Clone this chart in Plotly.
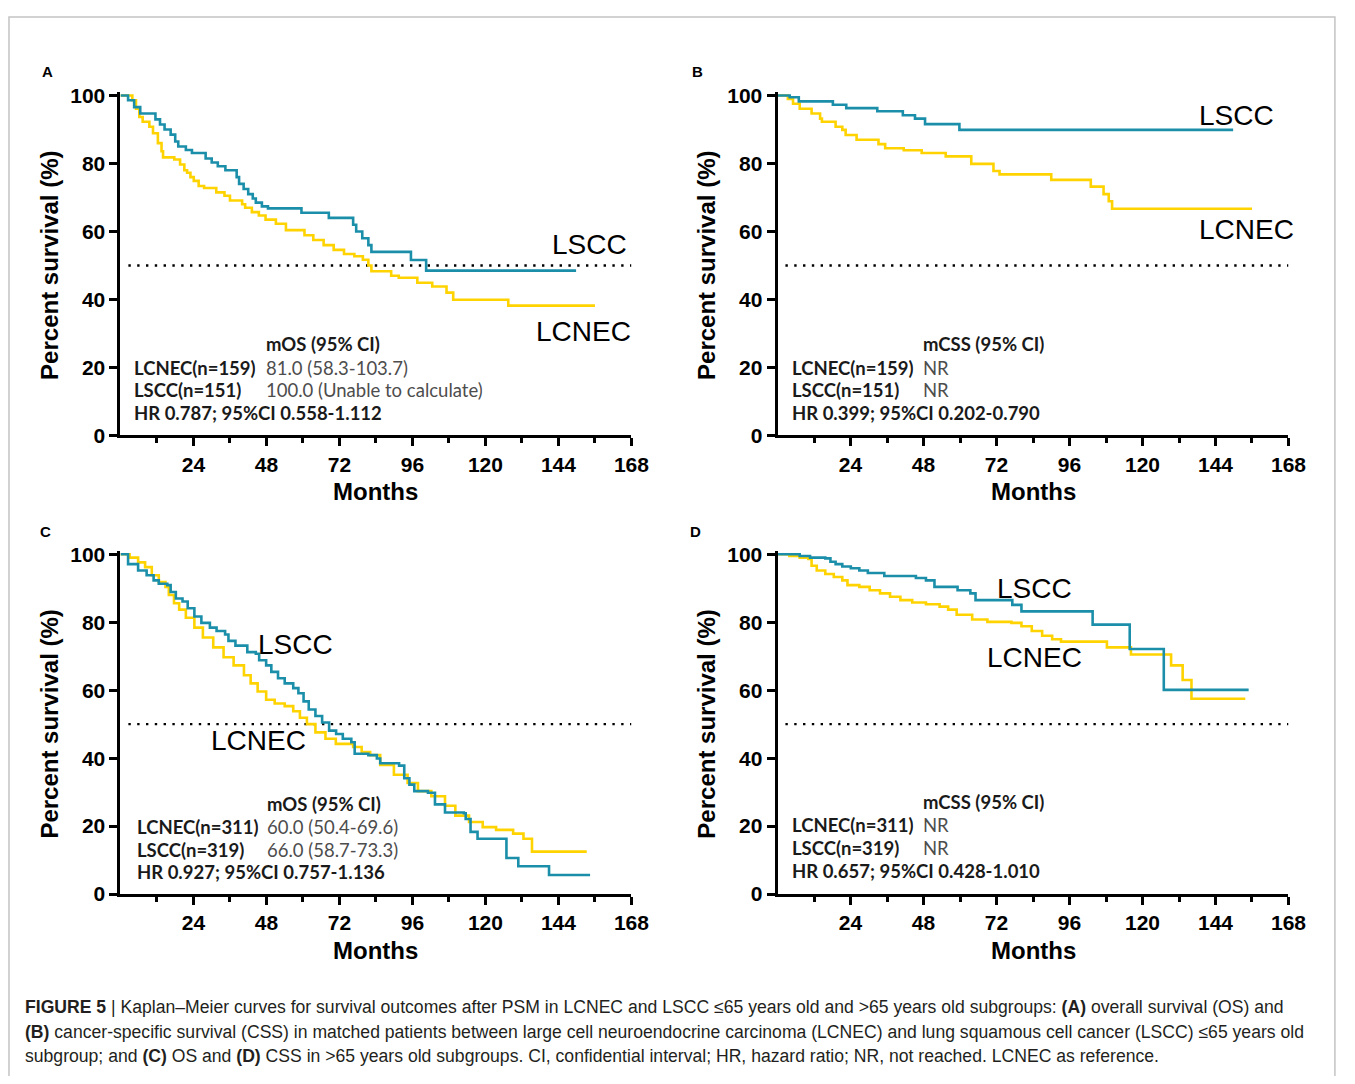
import plotly.graph_objects as go

# the page body keeps an 8px margin, so the figure is 16px smaller than the window
OFF = 8
W, H = 1355 - 2 * OFF, 1084 - 2 * OFF

# ---------------- data (months, percent survival) ----------------
# Panel A: OS, <=65 years
a_lscc_t = [0, 2.5, 4.5, 6.5, 11.5, 13.0, 14.5, 16.5, 18.0, 19.0, 21.5, 23.5, 28.0, 30.0, 32.0, 34.5, 38.2, 39.0, 40.5,
            42.0, 43.5, 44.5, 46.5, 48.5, 59.5, 68.5, 76.5, 77.5, 79.5, 81.5, 82.5, 95.5, 100.5, 149.8]
a_lscc_s = [100, 98.6, 96.6, 94.7, 93.0, 91.5, 90.0, 88.5, 86.5, 85.0, 84.0, 83.1, 81.5, 80.3, 79.2, 78.0, 76.0, 74.0, 72.5,
            71.0, 69.7, 68.5, 67.4, 66.8, 65.5, 64.0, 62.0, 60.0, 58.0, 56.0, 54.0, 51.6, 48.5, 48.5]
a_lcnec_t = [0, 3.9, 5.1, 6.2, 7.3, 9.5, 10.7, 12.3, 13.5, 14.0, 17.7, 19.6, 21.0, 21.9, 23.0, 24.1, 25.7, 27.5, 31.5,
             34.2, 36.0, 40.0, 41.0, 43.2, 45.5, 47.7, 51.1, 54.4, 60.5, 63.4, 66.8, 70.1, 73.5, 76.9, 79.7, 81.5,
             82.5, 89.0, 91.5, 97.6, 102.5, 107.2, 109.4, 127.5, 156.0]
a_lcnec_s = [100, 98.6, 96.1, 93.7, 92.3, 90.8, 88.9, 86.0, 83.6, 81.8, 81.2, 79.7, 78.0, 77.3, 76.0, 74.9, 73.4, 72.8, 71.5,
             70.5, 69.1, 68.0, 67.0, 65.7, 64.7, 63.5, 62.3, 60.4, 58.9, 57.5, 56.0, 54.6, 53.4, 52.7, 51.7, 50.0,
             48.3, 47.0, 46.4, 44.9, 43.8, 42.0, 39.9, 38.2, 38.2]

# Panel B: CSS, <=65 years
b_lscc_t = [0, 4.0, 7.0, 18.2, 22.6, 32.8, 41.2, 45.2, 48.5, 59.8, 149.8]
b_lscc_s = [100, 99.5, 98.3, 97.3, 96.3, 95.4, 94.2, 93.2, 91.6, 89.9, 89.9]
b_lcnec_t = [0, 3.4, 5.1, 7.3, 11.2, 14.0, 14.6, 19.1, 21.3, 22.4, 26.0, 33.2, 35.4, 41.5, 47.4, 55.3, 63.7, 71.0,
             73.0, 90.0, 103.0, 107.2, 108.9, 110.0, 156.0]
b_lcnec_s = [100, 99.0, 97.6, 96.1, 94.7, 93.2, 92.3, 90.8, 89.9, 88.4, 87.0, 85.7, 84.5, 83.9, 83.1, 82.1, 79.9, 77.8,
             76.8, 75.2, 73.2, 71.0, 68.9, 66.7, 66.7]

# Panel C: OS, >65 years
c_lscc_t = [0, 2.5, 5.8, 8.6, 10.9, 12.6, 15.4, 16.5, 18.2, 20.4, 22.1, 24.3, 26.6, 29.4, 31.6, 34.4, 35.5, 37.8, 41.7,
            44.5, 45.6, 47.9, 49.6, 51.8, 54.0, 56.8, 58.5, 60.2, 61.9, 64.1, 66.3, 68.6, 70.9, 73.1, 75.9, 77.0,
            81.5, 84.3, 85.4, 91.6, 93.3, 95.0, 96.6, 101.1, 103.4, 106.7, 112.9, 113.5, 115.1, 117.4, 126.9, 130.8,
            140.9, 154.4]
c_lscc_s = [100, 97.1, 95.2, 93.8, 92.3, 91.3, 90.9, 88.9, 87.0, 86.1, 84.1, 81.7, 79.8, 78.4, 77.4, 76.4, 74.5, 73.1, 71.2,
            70.7, 68.8, 67.3, 65.4, 63.5, 62.0, 60.6, 59.1, 56.7, 54.3, 52.4, 50.5, 48.1, 47.1, 45.7, 44.7, 41.3,
            40.9, 39.9, 38.5, 37.8, 34.1, 32.2, 30.3, 29.8, 26.4, 24.0, 23.8, 22.1, 18.3, 16.3, 10.6, 8.2,
            5.6, 5.6]
c_lcnec_t = [0, 3.0, 5.8, 8.1, 10.3, 12.6, 14.8, 15.9, 17.6, 19.3, 21.5, 24.3, 27.1, 30.5, 33.9, 37.2, 40.6, 42.8, 45.1,
             47.9, 50.7, 54.0, 56.8, 59.0, 61.3, 64.1, 67.4, 70.8, 76.5, 79.3, 82.1, 85.4, 89.9, 94.4, 97.8, 102.2,
             106.7, 110.1, 114.6, 119.1, 123.5, 129.1, 132.5, 135.3, 153.3]
c_lcnec_s = [100, 99.0, 97.6, 96.2, 93.8, 91.8, 90.4, 88.0, 85.6, 83.7, 81.3, 78.4, 75.5, 72.6, 69.7, 67.3, 64.4, 62.0, 59.6,
             57.2, 56.1, 55.3, 53.8, 51.9, 50.0, 47.6, 45.7, 44.2, 43.3, 41.8, 40.9, 38.0, 35.1, 32.7, 30.3, 28.8,
             26.0, 23.1, 21.2, 19.7, 18.9, 17.8, 16.3, 12.5, 12.5]

# Panel D: CSS, >65 years
d_lscc_t = [0, 7.3, 10.7, 15.7, 17.4, 19.1, 21.3, 24.1, 26.9, 29.7, 35.1, 45.5, 48.8, 51.6, 59.2, 63.4, 65.1, 77.2, 80.2,
            103.6, 115.8, 127.0, 154.9]
d_lscc_s = [100, 99.5, 99.0, 98.8, 97.8, 97.1, 96.4, 95.9, 95.2, 94.5, 93.6, 93.0, 92.3, 90.4, 89.4, 88.5, 86.5, 85.1, 83.2,
            79.3, 72.1, 60.1, 60.1]
d_lcnec_t = [0, 3.9, 7.3, 10.1, 11.2, 12.9, 15.7, 18.5, 21.3, 23.0, 26.9, 30.3, 33.7, 37.0, 40.4, 44.3, 48.8, 53.3, 56.1,
             58.9, 64.0, 69.0, 76.9, 80.2, 83.6, 87.0, 90.3, 93.2, 108.3, 116.2, 129.4, 133.2, 136.1, 153.8]
d_lcnec_s = [100, 99.5, 99.0, 98.6, 96.6, 95.2, 94.2, 93.3, 92.3, 90.9, 90.4, 89.4, 88.5, 87.5, 86.5, 85.8, 85.3, 84.6, 83.7,
             82.2, 80.8, 80.1, 79.8, 78.8, 77.4, 76.0, 75.0, 74.3, 72.6, 70.5, 67.3, 63.0, 57.5, 57.5]

x_ticks = [24, 48, 72, 96, 120, 144, 168]
x_minor = [12, 36, 60, 84, 108, 132, 156]
y_ticks = [0, 20, 40, 60, 80, 100]

stat_labels = {
    "A": ("mOS (95% CI)", "LCNEC(n=159)", "81.0 (58.3-103.7)", "LSCC(n=151)", "100.0 (Unable to calculate)",
          "HR 0.787; 95%CI 0.558-1.112"),
    "B": ("mCSS (95% CI)", "LCNEC(n=159)", "NR", "LSCC(n=151)", "NR", "HR 0.399; 95%CI 0.202-0.790"),
    "C": ("mOS (95% CI)", "LCNEC(n=311)", "60.0 (50.4-69.6)", "LSCC(n=319)", "66.0 (58.7-73.3)",
          "HR 0.927; 95%CI 0.757-1.136"),
    "D": ("mCSS (95% CI)", "LCNEC(n=311)", "NR", "LSCC(n=319)", "NR", "HR 0.657; 95%CI 0.428-1.010"),
}

BLUE = "#1b8fa9"
YELLOW = "#ffd300"
PXM = 3.083   # px per month
PYP = 3.46    # px per percent
YMAX = 101

# panel geometry (page pixels): letter, axis suffix, x of month 0, y of 0 %, curves, label pos, stats origin, letter pos
panels = [
    ("A", "", 122, 435, (a_lscc_t, a_lscc_s, a_lcnec_t, a_lcnec_s), ((597, 241), (591, 329)), (135, 268, 342), (48, 65)),
    ("B", "2", 788, 435, (b_lscc_t, b_lscc_s, b_lcnec_t, b_lcnec_s), ((1253, 109), (1263, 225)), (802, 934, 342), (707, 65)),
    ("C", "3", 122, 902, (c_lscc_t, c_lscc_s, c_lcnec_t, c_lcnec_s), ((299, 648), (262, 746)), (138, 270, 810), (46, 533)),
    ("D", "4", 788, 902, (d_lscc_t, d_lscc_s, d_lcnec_t, d_lcnec_s), ((1048, 591), (1048, 661)), (802, 934, 808), (705, 533)),
]

def fx(px):
    return (px - OFF) / W

def fy(py):
    return 1 - (py - OFF) / H

fig = go.Figure()
annotations = []
ARIAL = "Liberation Sans, Arial, sans-serif"
TICKFONT = dict(family=ARIAL, size=21, color="black", weight="bold")
STATFONT = "Lato, Noto Sans, sans-serif"

for letter, sfx, x0, y0, curves, labpos, stat, letpos in panels:
    xa = "x" + sfx
    ya = "y" + sfx
    lt, ls, nt, ns = curves
    # reference line at 50%
    fig.add_trace(go.Scatter(x=[2.6, 168], y=[50, 50], mode="lines", xaxis=xa, yaxis=ya,
                             line=dict(color="black", width=2.4, dash="2.4px,6.4px"), showlegend=False,
                             hoverinfo="skip"))
    fig.add_trace(go.Scatter(x=nt, y=ns, mode="lines", line_shape="hv", xaxis=xa, yaxis=ya,
                             line=dict(color=YELLOW, width=2.6), name="LCNEC", showlegend=False))
    fig.add_trace(go.Scatter(x=lt, y=ls, mode="lines", line_shape="hv", xaxis=xa, yaxis=ya,
                             line=dict(color=BLUE, width=2.6), name="LSCC", showlegend=False))

    dom_x = [fx(x0), fx(x0 + 168 * PXM)]
    dom_y = [fy(y0), fy(y0 - YMAX * PYP)]
    fig.update_layout(**{
        "xaxis" + sfx: dict(domain=dom_x, range=[0, 168], anchor=ya, showgrid=False, zeroline=False,
                            showline=True, linecolor="black", linewidth=3, ticks="outside", ticklen=8,
                            tickwidth=2.5, tickcolor="black", tickmode="array", tickvals=x_ticks,
                            tickfont=TICKFONT,
                            minor=dict(tickmode="array", tickvals=x_minor, ticks="outside", ticklen=5,
                                       tickwidth=2.5, tickcolor="black", showgrid=False)),
        "yaxis" + sfx: dict(domain=dom_y, range=[0, YMAX], anchor=xa, showgrid=False, zeroline=False,
                            showline=True, linecolor="black", linewidth=3, ticks="outside", ticklen=8,
                            tickwidth=2.5, tickcolor="black", tickmode="array", tickvals=y_ticks,
                            tickfont=TICKFONT),
    })

    # axis titles
    annotations.append(dict(x=fx(x0 - 72), y=fy(y0 - 50 * PYP), xref="paper", yref="paper",
                            text="Percent survival (%)", textangle=-90, showarrow=False,
                            font=dict(family=ARIAL, size=24, color="black", weight="bold"),
                            xanchor="center", yanchor="middle"))
    annotations.append(dict(x=fx(x0 + 84 * PXM), y=fy(y0 + 57), xref="paper", yref="paper",
                            text="Months", showarrow=False,
                            font=dict(family=ARIAL, size=24, color="black", weight="bold"),
                            xanchor="center", yanchor="middle"))
    # panel letter
    annotations.append(dict(x=fx(letpos[0]), y=fy(letpos[1]), xref="paper", yref="paper", text=letter,
                            showarrow=False, xanchor="center", yanchor="middle",
                            font=dict(family=ARIAL, size=15, color="black", weight="bold")))
    # curve labels
    for txt, (px, py) in zip(("LSCC", "LCNEC"), labpos):
        annotations.append(dict(x=fx(px), y=fy(py), xref="paper", yref="paper", text=txt, showarrow=False,
                                xanchor="center", yanchor="middle",
                                font=dict(family=ARIAL, size=28, color="black")))
    # stats block
    lx, vx, ty = stat
    head, l1, v1, l2, v2, hr = stat_labels[letter]
    bold = dict(family=STATFONT, size=18.5, color="#1a1a1a", weight="bold")
    light = dict(family=STATFONT, size=18.5, color="#4d4d4d", weight="normal")
    rows = [(vx, ty, head, bold), (lx, ty + 24, l1, bold), (vx, ty + 24, v1, light),
            (lx, ty + 47, l2, bold), (vx, ty + 47, v2, light), (lx, ty + 70, hr, bold)]
    for px, py, txt, f in rows:
        annotations.append(dict(x=fx(px), y=fy(py), xref="paper", yref="paper", text=txt, showarrow=False,
                                xanchor="left", yanchor="middle", font=f, borderpad=0, height=20))

# caption
caption = [
    "<b>FIGURE 5</b> | Kaplan–Meier curves for survival outcomes after PSM in LCNEC and LSCC ≤65 years old and >65 years old subgroups: <b>(A)</b> overall survival (OS) and",
    "<b>(B)</b> cancer-specific survival (CSS) in matched patients between large cell neuroendocrine carcinoma (LCNEC) and lung squamous cell cancer (LSCC) ≤65 years old",
    "subgroup; and <b>(C)</b> OS and <b>(D)</b> CSS in >65 years old subgroups. CI, confidential interval; HR, hazard ratio; NR, not reached. LCNEC as reference.",
]
for i, line in enumerate(caption):
    annotations.append(dict(x=fx(24), y=fy(1017 + 25 * i), xref="paper", yref="paper", text=line,
                            showarrow=False, xanchor="left", yanchor="middle", borderpad=0, height=22,
                            font=dict(family=ARIAL, size=17.6, color="#231f20")))

fig.update_layout(
    width=W, height=H, autosize=False,
    margin=dict(l=0, r=0, t=0, b=0),
    paper_bgcolor="white", plot_bgcolor="white",
    annotations=annotations,
    shapes=[dict(type="rect", xref="paper", yref="paper", x0=fx(9), x1=fx(1353), y0=fy(1095), y1=fy(9),
                 line=dict(color="#c4c4c4", width=1.5), fillcolor="rgba(0,0,0,0)", layer="below")],
)

fig.write_html("out.html", config={"displayModeBar": False})
